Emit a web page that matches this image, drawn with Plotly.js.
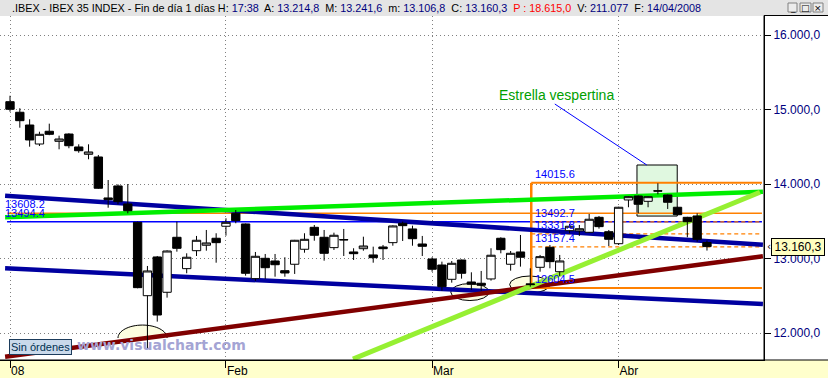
<!DOCTYPE html>
<html><head><meta charset="utf-8">
<script src="https://cdn.plot.ly/plotly-3.0.1.min.js"></script>
<style>html,body{margin:0;padding:0;background:#fff;}#chart{width:828px;height:378px;}</style>
</head><body><div id="chart"></div><script>
// ---- data ----
const dates = [
 '2008-01-02','2008-01-03','2008-01-04','2008-01-07','2008-01-08','2008-01-09','2008-01-10','2008-01-11','2008-01-14','2008-01-15','2008-01-16','2008-01-17','2008-01-18','2008-01-21','2008-01-22','2008-01-23','2008-01-24','2008-01-25','2008-01-28','2008-01-29','2008-01-30','2008-01-31',
 '2008-02-01','2008-02-04','2008-02-05','2008-02-06','2008-02-07','2008-02-08','2008-02-11','2008-02-12','2008-02-13','2008-02-14','2008-02-15','2008-02-18','2008-02-19','2008-02-20','2008-02-21','2008-02-22','2008-02-25','2008-02-26','2008-02-27','2008-02-28','2008-02-29',
 '2008-03-03','2008-03-04','2008-03-05','2008-03-06','2008-03-07','2008-03-10','2008-03-11','2008-03-12','2008-03-13','2008-03-14','2008-03-17','2008-03-18','2008-03-19','2008-03-20','2008-03-25','2008-03-26','2008-03-27','2008-03-28','2008-03-31',
 '2008-04-01','2008-04-02','2008-04-03','2008-04-04','2008-04-07','2008-04-08','2008-04-09','2008-04-10','2008-04-11','2008-04-14'];
const open  = [15105,14963,14792,14537,14708,14573,14671,14497,14399,14363,13813,13974,13732,13486,12501,13021,12547,13285,12864,13105,13178,13272,
 13433,13607,13464,12730,13003,12967,12837,12923,13124,13419,13285,13146,13255,13088,13132,13048,13155,13213,13473,13397,13195,
 12994,12913,12721,12980,12685,12668,12726,13272,12923,13088,12660,12882,13151,12823,13374,13370,13352,13553,13360,
 13199,13786,13839,13768,13910,13853,13688,13553,13571,13214.8];
const high  = [15185,15017,14869,14702,14810,14649,14681,14533,14533,14390,14054,13996,14000,13495,12900,13034,13110,13495,13070,13303,13383,13339,
 13540,13651,13470,13088,13061,13061,13017,13250,13339,13450,13383,13347,13397,13138,13293,13159,13182,13445,13495,13441,13303,
 13017,12958,12967,12985,12815,12833,13138,13285,13101,13316,12869,13048,13182,13048,13464,13450,13598,13571,13383,
 13695,13835,13845,13835,14010,13860,13695,13560,13607,13241.6];
const low   = [14971,14756,14501,14510,14655,14466,14480,14420,14332,13935,13682,13728,13607,12600,11786,12153,12475,13092,12802,13034,13105,12944,
 13307,13473,12770,12699,12726,12756,12756,12793,13078,13239,12971,13115,13034,12980,13105,12944,12980,13172,13235,13172,13034,
 12823,12568,12676,12730,12578,12568,12703,13070,12837,12891,12622,12823,12869,12766,13339,13303,13345,13401,13168,
 13182,13688,13607,13688,13862,13665,13580,13285,13226,13106.8];
const close = [15003,14850,14591,14667,14667,14604,14514,14447,14430,13943,13790,13763,13642,12609,12833,12242,13101,13137,13017,13245,13209,13213,
 13486,13508,12802,13030,12877,12917,12806,13245,13258,13312,13070,13312,13250,13065,13168,13011,13132,13437,13441,13266,13164,
 12856,12622,12936,12802,12654,12641,13044,13119,13070,13017,12650,13025,12958,12967,13433,13400,13527,13428,13258,
 13688,13830,13728,13830,13905,13755,13588,13494,13258,13160.3];
const monthStarts = ['2008-01-02','2008-02-01','2008-03-03','2008-04-01'];
const monthLabels = ['08','Feb','Mar','Abr'];
const priceTicks = [12000,13000,14000,15000,16000];
const fiboLevels = [14015.6,13492.7,13331.8,13157.4,12604.5];
const fiboDash   = ['solid','dash','dash','dash','solid'];
const resistLevel = 13608.2;   // orange full-width line
const pivotLevel  = 13494.4;   // thin blue full-width line
const lastClose   = 13160.3;
// trend lines: [index start, price start, index end, price end]
const trendUpperBlue = [-0.5,13843,76.7,13185];
const trendLowerBlue = [-0.5,12868,76.7,12388];
const trendGreen     = [-0.5,13553,76.7,13895];
const trendMaroon    = [-0.5,11682,76.7,13030];
const trendLightGrn  = [34.94,11651,76.4,13890];
const fiboStartIdx = 53.1, fiboEndIdx = 76.6;
const starBox = [63.87,13570,67.97,14255];     // "Estrella vespertina" box
const starNote = [55.2,15074];                 // start of the pointer line

// ---- layout helpers (pixel -> paper) ----
const W = 764, H = 344, B = 360;
const px = p => p / W;
const py = p => (B - p) / H;
const xIdx = dates.map((d, i) => i);
const tickIdx = monthStarts.map(d => dates.indexOf(d));

const trace = {
  type: 'candlestick', x: xIdx, open: open, high: high, low: low, close: close,
  increasing: {line: {color: '#000000', width: 1}, fillcolor: '#ffffff'},
  decreasing: {line: {color: '#000000', width: 1}, fillcolor: '#000000'},
  whiskerwidth: 0, hoverinfo: 'skip', showlegend: false
};

const shapes = [];
function seg(t, color, width, dash, layer) {
  shapes.push({type: 'line', xref: 'x', yref: 'y', x0: t[0], y0: t[1], x1: t[2], y1: t[3],
    line: {color: color, width: width, dash: dash || 'solid'}, layer: layer || 'between'});
}
// decorations in paper space
shapes.push({type: 'rect', xref: 'paper', yref: 'paper', x0: 0, x1: px(828), y0: py(16), y1: py(0),
  fillcolor: '#e4e4e4', line: {width: 0}, layer: 'below'});
shapes.push({type: 'rect', xref: 'paper', yref: 'paper', x0: 0, x1: px(828), y0: py(378), y1: py(360),
  fillcolor: '#ffffcc', line: {width: 0}, layer: 'below'});
shapes.push({type: 'line', xref: 'paper', yref: 'paper', x0: 0, x1: px(828), y0: 0, y1: 0,
  line: {color: '#000', width: 1}, layer: 'above'});
shapes.push({type: 'line', xref: 'paper', yref: 'paper', x0: 1, x1: px(828), y0: py(15.5), y1: py(15.5),
  line: {color: '#000', width: 1}, layer: 'above'});
shapes.push({type: 'line', xref: 'paper', yref: 'paper', x0: 1, x1: 1, y0: py(15.5), y1: 0,
  line: {color: '#000', width: 1}, layer: 'above'});
// window buttons
[[788,797],[800,811],[813,823]].forEach(b => shapes.push({type: 'rect', xref: 'paper', yref: 'paper',
  x0: px(b[0]), x1: px(b[1]), y0: py(12), y1: py(3), fillcolor: '#ececec', line: {color: '#808080', width: 1}, layer: 'above'}));
// star box
shapes.push({type: 'rect', xref: 'x', yref: 'y', x0: starBox[0], y0: starBox[1], x1: starBox[2], y1: starBox[3],
  fillcolor: '#e0f8e0', line: {color: '#000', width: 1}, layer: 'between'});
// ellipses
shapes.push({type: 'circle', xref: 'x', yref: 'y', x0: 44.9, x1: 48.8, y0: 12436, y1: 12664,
  fillcolor: '#fdfde0', line: {color: '#000', width: 1}, layer: 'between'});
shapes.push({type: 'circle', xref: 'x', yref: 'y', x0: 50.9, x1: 55.0, y0: 12537, y1: 12765,
  fillcolor: '#fdfde0', line: {color: '#000', width: 1}, layer: 'between'});
(function(){ const x0 = 11.0, x1 = 16.0, yb = 11933, yt = 12107, k = 0.5523;
  const cx = (x0 + x1) / 2, rx = (x1 - x0) / 2, h = yt - yb;
  shapes.push({type: 'path', xref: 'x', yref: 'y', layer: 'between', fillcolor: '#fdfde0', line: {color: '#000', width: 1},
    path: `M${x0},${yb} C${x0},${yb + k*h} ${cx - k*rx},${yt} ${cx},${yt} C${cx + k*rx},${yt} ${x1},${yb + k*h} ${x1},${yb}`});
})();
// horizontal levels
seg([-0.3, pivotLevel, 76.6, pivotLevel], '#0000ff', 1.5);
seg([-0.3, resistLevel, 76.6, resistLevel], '#ff8000', 1.5);
fiboLevels.forEach((v, i) => seg([fiboStartIdx, v, fiboEndIdx, v], '#ff8000', fiboDash[i] === 'solid' ? 2 : 1.2, fiboDash[i] === 'solid' ? 'solid' : '4px,3px'));
seg([fiboStartIdx, fiboLevels[0], fiboStartIdx, fiboLevels[4]], '#ff8000', 2.5);
// trend lines
seg(trendLowerBlue, '#0000a0', 4.5);
seg(trendUpperBlue, '#0000a0', 4.5);
seg(trendGreen, '#00ee00', 4.5);
seg(trendMaroon, '#800000', 4.5);
seg(trendLightGrn, '#96f032', 5);
seg([starNote[0] + 0.3, starNote[1], starBox[0] + 1.0, starBox[3]], '#0000ff', 1, 'solid');

const lblFont = {family: 'Liberation Sans, Arial, sans-serif', size: 11, color: '#0000ff'};
const annotations = [];
fiboLevels.forEach(v => annotations.push({xref: 'x', yref: 'y', x: fiboStartIdx + 0.3, y: v, yshift: 2, text: v.toFixed(1),
  showarrow: false, xanchor: 'left', yanchor: 'bottom', font: lblFont, borderpad: 0}));
[resistLevel, pivotLevel].forEach(v => annotations.push({xref: 'x', yref: 'y', x: -0.6, y: v, yshift: 2, text: v.toFixed(1),
  showarrow: false, xanchor: 'left', yanchor: 'bottom', font: lblFont, borderpad: 0}));
annotations.push({xref: 'x', yref: 'y', x: starNote[0] + 0.5, y: starNote[1], yshift: -1, text: 'Estrella vespertina', showarrow: false,
  xanchor: 'center', yanchor: 'bottom', font: {family: 'Liberation Sans, Arial, sans-serif', size: 14, color: '#00a000'}});
// last price tag
annotations.push({xref: 'paper', yref: 'y', x: px(771), y: lastClose, text: '13.160,3', showarrow: false, xanchor: 'left', yanchor: 'middle',
  bgcolor: '#ffffc0', bordercolor: '#000', borderwidth: 1, borderpad: 1, width: 50,
  font: {family: 'Liberation Sans, Arial, sans-serif', size: 12, color: '#000'}});
annotations.push({xref: 'paper', yref: 'y', x: px(765), y: lastClose, text: '‹', showarrow: false, xanchor: 'left', yanchor: 'middle',
  font: {family: 'DejaVu Sans, sans-serif', size: 10, color: '#000'}});
// header (one line, mixed colours)
const nv = s => `<span style="color:#000080">${s}</span>`;
const hdrText = '.IBEX - IBEX 35 INDEX - Fin de día 1 días H: ' + nv('17:38') + '  A: ' + nv('13.214,8') +
  '  M: ' + nv('13.241,6') + '  m: ' + nv('13.106,8') + '  C: ' + nv('13.160,3') +
  '  <span style="color:#ff0000">P : 18.615,0</span>  V: ' + nv('211.077') + '  F: ' + nv('14/04/2008');
annotations.push({xref: 'paper', yref: 'paper', x: px(11), y: py(8), text: hdrText, showarrow: false,
  xanchor: 'left', yanchor: 'middle', borderpad: 0, font: {family: 'Liberation Sans, Arial, sans-serif', size: 10.8, color: '#000'}});
// window button glyphs
[[792.5, '_'], [805.5, '□'], [818, '×']].forEach(g => annotations.push({xref: 'paper', yref: 'paper', x: px(g[0]), y: py(7.5), text: g[1],
  showarrow: false, xanchor: 'center', yanchor: 'middle', borderpad: 0, font: {family: 'DejaVu Sans, sans-serif', size: 9, color: '#000'}}));
// status box and watermark
annotations.push({xref: 'paper', yref: 'paper', x: px(9), y: py(347), text: 'Sin órdenes', showarrow: false, xanchor: 'left', yanchor: 'middle',
  bgcolor: '#c9d9ea', bordercolor: '#1c3c5c', borderwidth: 1, borderpad: 1,
  font: {family: 'Liberation Sans, Arial, sans-serif', size: 11, color: '#003050'}});
annotations.push({xref: 'paper', yref: 'paper', x: px(75), y: py(345), text: '<b>www.visualchart.com</b>', showarrow: false, xanchor: 'left', yanchor: 'middle',
  font: {family: 'DejaVu Sans, sans-serif', size: 14, color: '#a4a4d4'}});

const layout = {
  width: 828, height: 378, margin: {l: 0, r: 64, t: 16, b: 18, pad: 0},
  paper_bgcolor: '#ffffff', plot_bgcolor: 'rgba(0,0,0,0)', separators: ',.',
  showlegend: false, boxgap: 0.15, boxgroupgap: 0, hovermode: false,
  xaxis: {range: [-1.019, 76.81], tickmode: 'array', tickvals: tickIdx, ticktext: monthLabels,
    ticks: 'outside', ticklen: 7, tickcolor: '#000', tickwidth: 1, ticklabelposition: 'outside right',
    showgrid: true, gridcolor: '#808080', griddash: '1px,3px', gridwidth: 1,
    showline: true, linecolor: '#000', linewidth: 1, zeroline: false, rangeslider: {visible: false},
    tickfont: {family: 'Liberation Sans, Arial, sans-serif', size: 12, color: '#000'}, fixedrange: true},
  yaxis: {side: 'right', range: [11638, 16255], tickmode: 'array', tickvals: priceTicks, tickformat: ',.1f',
    ticks: 'outside', ticklen: 6, tickcolor: '#000', showgrid: true, gridcolor: '#808080', griddash: '1px,3px', gridwidth: 1,
    showline: true, linecolor: '#000', linewidth: 1, zeroline: false,
    tickfont: {family: 'Liberation Sans, Arial, sans-serif', size: 12, color: '#000080'}, fixedrange: true},
  shapes: shapes, annotations: annotations
};
Plotly.newPlot('chart', [trace], layout, {staticPlot: true, displayModeBar: false});
</script></body></html>
